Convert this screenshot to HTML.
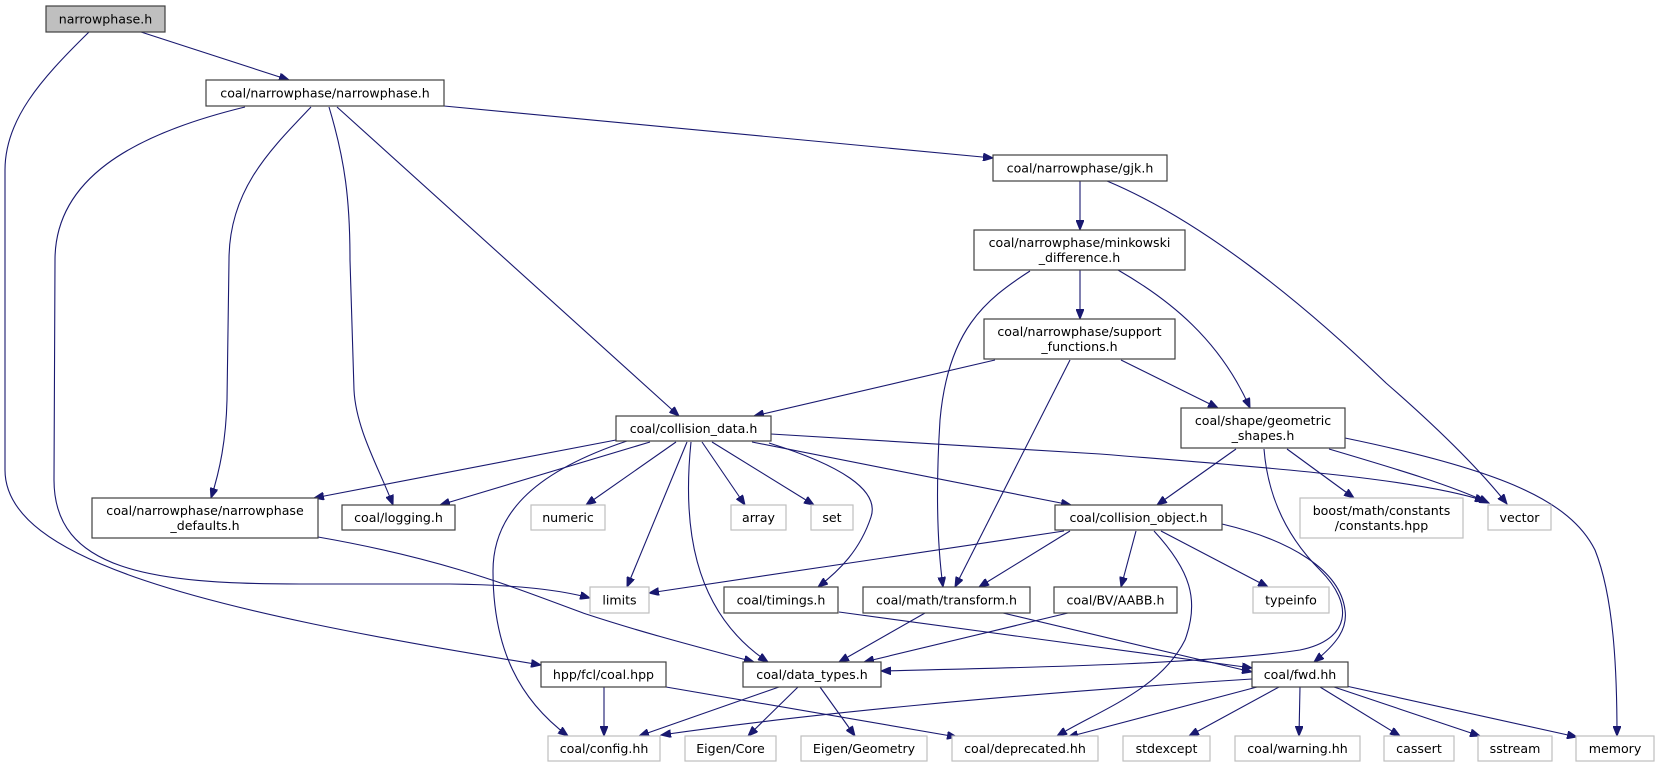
<!DOCTYPE html>
<html><head><meta charset="utf-8"><style>
html,body{margin:0;padding:0;background:#fff;}
svg{display:block;}
text{font-family:"DejaVu Sans","Liberation Sans",sans-serif;font-size:12.6px;fill:#000;text-anchor:middle;}
.b{fill:#fff;stroke:#404040;stroke-width:1.2;}
.g{fill:#fff;stroke:#bfbfbf;stroke-width:1.2;}
.r{fill:#bfbfbf;stroke:#404040;stroke-width:1.2;}
path.e{fill:none;stroke:#191970;stroke-width:1.1;marker-end:url(#a);}
</style></head><body>
<svg width="1659" height="768" viewBox="0 0 1659 768" xmlns="http://www.w3.org/2000/svg">
<defs><marker id="a" markerWidth="11" markerHeight="8" refX="10" refY="4" orient="auto" markerUnits="userSpaceOnUse"><path d="M0,0 L10,4 L0,8 z" fill="#191970" stroke="#191970"/></marker></defs>

<path class="e" d="M141,32 L289,80"/>
<path class="e" d="M89,32 C40,80 5,120 5,170 L5,470 C5,560 200,610 541,665"/>
<path class="e" d="M444,106 L993,158"/>
<path class="e" d="M311,107 C270,150 229,190 229,260 L227,400 C226,440 220,470 211,498"/>
<path class="e" d="M329,107 C345,160 350,200 350,260 L354,390 C356,430 380,470 393,505"/>
<path class="e" d="M245,107 C130,135 55,180 55,260 L54,480 C54,570 150,584 300,584 L450,584 C520,585 560,590 590,598"/>
<path class="e" d="M337,107 L679,416"/>
<path class="e" d="M1080,181 L1080,230"/>
<path class="e" d="M1107,181 C1200,220 1300,300 1386,383 C1440,430 1480,470 1507,504"/>
<path class="e" d="M1080,270 L1080,319"/>
<path class="e" d="M1118,270 C1170,300 1220,340 1250,408"/>
<path class="e" d="M1030,271 C985,300 948,330 940,420 C935,500 938,550 943,587"/>
<path class="e" d="M995,360 L754,416"/>
<path class="e" d="M1121,360 L1218,408"/>
<path class="e" d="M1070,360 L955,587"/>
<path class="e" d="M616,440 L314,498"/>
<path class="e" d="M650,442 L440,505"/>
<path class="e" d="M627,441 C540,470 493,510 493,571 C493,650 520,700 568,736"/>
<path class="e" d="M676,442 L586,505"/>
<path class="e" d="M687,442 L627,587"/>
<path class="e" d="M691,442 C683,520 690,610 768,662"/>
<path class="e" d="M702,442 L745,505"/>
<path class="e" d="M712,442 L814,505"/>
<path class="e" d="M769,443 C840,465 880,490 871,517 C860,550 840,570 818,587"/>
<path class="e" d="M752,442 L1071,505"/>
<path class="e" d="M771,434 L1100,454 C1300,470 1420,480 1485,501"/>
<path class="e" d="M1236,449 L1157,505"/>
<path class="e" d="M1287,449 L1354,498"/>
<path class="e" d="M1329,449 C1400,470 1450,485 1489,503"/>
<path class="e" d="M1345,438 C1500,470 1570,500 1595,550 C1615,600 1617,680 1617,736"/>
<path class="e" d="M1264,449 C1268,500 1290,540 1320,570 C1355,605 1350,640 1300,650 C1200,665 1000,668 881,671"/>
<path class="e" d="M1064,531 L649,593"/>
<path class="e" d="M1070,531 L979,587"/>
<path class="e" d="M1136,531 L1121,587"/>
<path class="e" d="M1161,531 L1268,587"/>
<path class="e" d="M1222,524 C1290,540 1340,570 1345,610 C1348,630 1335,645 1314,662"/>
<path class="e" d="M1154,531 C1190,570 1200,600 1185,640 C1160,690 1100,710 1057,736"/>
<path class="e" d="M839,612 L1252,668"/>
<path class="e" d="M925,613 L839,662"/>
<path class="e" d="M1003,613 L1252,672"/>
<path class="e" d="M1068,613 L864,662"/>
<path class="e" d="M318,537 C450,560 520,590 586,614 C650,635 710,650 754,662"/>
<path class="e" d="M604,687 L604,736"/>
<path class="e" d="M666,687 L957,737"/>
<path class="e" d="M779,687 L639,736"/>
<path class="e" d="M798,687 L748,736"/>
<path class="e" d="M820,687 L855,736"/>
<path class="e" d="M1252,679 C1000,695 800,715 661,735"/>
<path class="e" d="M1257,687 L1068,737"/>
<path class="e" d="M1279,687 L1189,736"/>
<path class="e" d="M1300,687 L1299,736"/>
<path class="e" d="M1320,687 L1400,736"/>
<path class="e" d="M1334,687 L1480,736"/>
<path class="e" d="M1346,686 L1577,737"/>

<rect class="r" x="46" y="6" width="119" height="26"/><text x="105.5" y="23.5">narrowphase.h</text>
<rect class="b" x="206" y="80" width="238" height="26"/><text x="325" y="97.5">coal/narrowphase/narrowphase.h</text>
<rect class="b" x="993" y="155" width="174" height="26"/><text x="1080" y="172.5">coal/narrowphase/gjk.h</text>
<rect class="b" x="974" y="230" width="211" height="40"/><text x="1079.5" y="247">coal/narrowphase/minkowski</text><text x="1079.5" y="262">_difference.h</text>
<rect class="b" x="984" y="319" width="191" height="40"/><text x="1079.5" y="336">coal/narrowphase/support</text><text x="1079.5" y="351">_functions.h</text>
<rect class="b" x="1181" y="408" width="164" height="40"/><text x="1263" y="425">coal/shape/geometric</text><text x="1263" y="440">_shapes.h</text>
<rect class="b" x="616" y="416" width="155" height="25"/><text x="693.5" y="433">coal/collision_data.h</text>
<rect class="b" x="92" y="498" width="226" height="40"/><text x="205" y="515">coal/narrowphase/narrowphase</text><text x="205" y="530">_defaults.h</text>
<rect class="b" x="342" y="505" width="113" height="25"/><text x="398.5" y="522">coal/logging.h</text>
<rect class="g" x="531" y="505" width="74" height="25"/><text x="568" y="522">numeric</text>
<rect class="g" x="731" y="505" width="55" height="25"/><text x="758.5" y="522">array</text>
<rect class="g" x="811" y="505" width="42" height="25"/><text x="832" y="522">set</text>
<rect class="b" x="1055" y="505" width="167" height="25"/><text x="1138.5" y="522">coal/collision_object.h</text>
<rect class="g" x="1300" y="498" width="163" height="40"/><text x="1381.5" y="515">boost/math/constants</text><text x="1381.5" y="530">/constants.hpp</text>
<rect class="g" x="1488" y="505" width="63" height="25"/><text x="1519.5" y="522">vector</text>
<rect class="g" x="590" y="587" width="59" height="26"/><text x="619.5" y="604.5">limits</text>
<rect class="b" x="724" y="587" width="114" height="26"/><text x="781" y="604.5">coal/timings.h</text>
<rect class="b" x="863" y="587" width="167" height="26"/><text x="946.5" y="604.5">coal/math/transform.h</text>
<rect class="b" x="1054" y="587" width="123" height="26"/><text x="1115.5" y="604.5">coal/BV/AABB.h</text>
<rect class="g" x="1253" y="587" width="76" height="26"/><text x="1291" y="604.5">typeinfo</text>
<rect class="b" x="541" y="662" width="125" height="25"/><text x="603.5" y="679">hpp/fcl/coal.hpp</text>
<rect class="b" x="743" y="662" width="138" height="25"/><text x="812" y="679">coal/data_types.h</text>
<rect class="b" x="1252" y="662" width="96" height="25"/><text x="1300" y="679">coal/fwd.hh</text>
<rect class="g" x="548" y="736" width="112" height="25"/><text x="604" y="753">coal/config.hh</text>
<rect class="g" x="685" y="736" width="91" height="25"/><text x="730.5" y="753">Eigen/Core</text>
<rect class="g" x="801" y="736" width="126" height="25"/><text x="864" y="753">Eigen/Geometry</text>
<rect class="g" x="952" y="736" width="146" height="25"/><text x="1025" y="753">coal/deprecated.hh</text>
<rect class="g" x="1123" y="736" width="87" height="25"/><text x="1166.5" y="753">stdexcept</text>
<rect class="g" x="1235" y="736" width="125" height="25"/><text x="1297.5" y="753">coal/warning.hh</text>
<rect class="g" x="1384" y="736" width="70" height="25"/><text x="1419" y="753">cassert</text>
<rect class="g" x="1478" y="736" width="74" height="25"/><text x="1515" y="753">sstream</text>
<rect class="g" x="1576" y="736" width="78" height="25"/><text x="1615" y="753">memory</text>
</svg>
</body></html>
